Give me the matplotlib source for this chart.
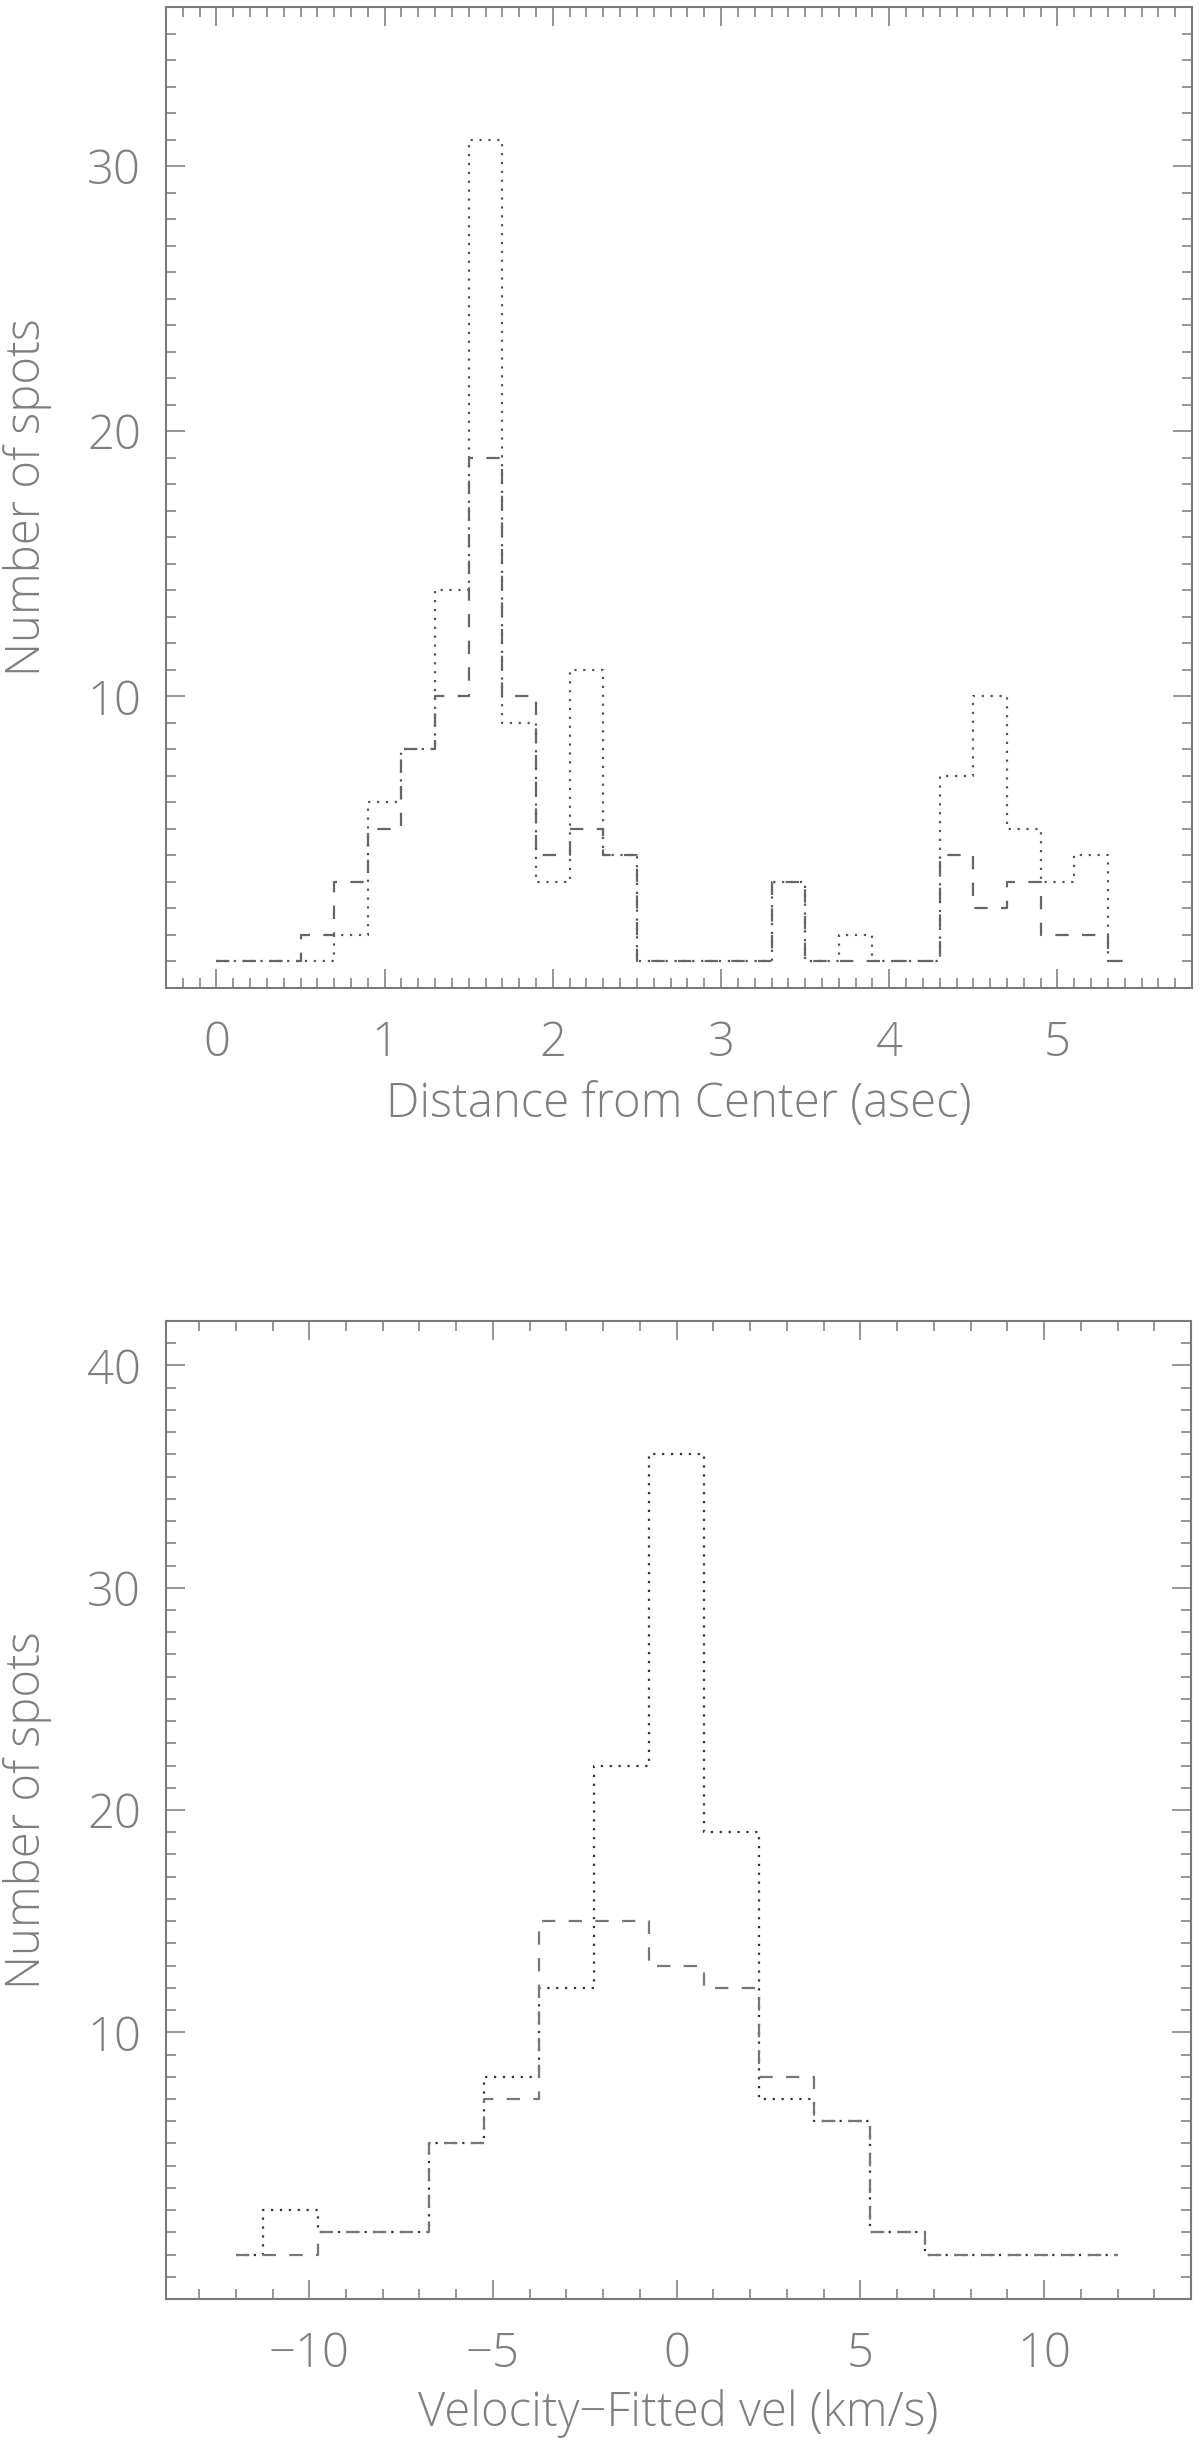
import matplotlib
matplotlib.use('Agg')
import matplotlib.pyplot as plt
from matplotlib.ticker import MultipleLocator, FixedLocator

# histogram of spot distances (bin centres, asec)
dist_centers = [0.0, 0.2, 0.4, 0.6, 0.8, 1.0, 1.2, 1.4, 1.6, 1.8, 2.0, 2.2, 2.4, 2.6,
                2.8, 3.0, 3.2, 3.4, 3.6, 3.8, 4.0, 4.2, 4.4, 4.6, 4.8, 5.0, 5.2, 5.4]
dist_dotted = [0, 0, 0, 0, 1, 6, 8, 14, 31, 9, 3, 11, 4, 0,
               0, 0, 0, 3, 0, 1, 0, 0, 7, 10, 5, 3, 4, 0]
dist_dashed = [0, 0, 0, 1, 3, 5, 8, 10, 19, 10, 4, 5, 4, 0,
               0, 0, 0, 3, 0, 0, 0, 0, 4, 2, 3, 1, 1, 0]

# histogram of velocity residuals (bin centres, km/s)
vel_centers = [-12, -10.5, -9, -7.5, -6, -4.5, -3, -1.5, 0, 1.5, 3, 4.5, 6, 7.5, 9, 10.5, 12]
vel_dotted = [0, 2, 1, 1, 5, 8, 12, 22, 36, 19, 7, 6, 1, 0, 0, 0, 0]
vel_dashed = [0, 0, 1, 1, 5, 7, 15, 15, 13, 12, 8, 6, 1, 0, 0, 0, 0]

text_color = '#7f7f7f'
axis_color = '#7a7a7a'
fsize = 34

plt.rcParams['font.family'] = ['Open Sans', 'DejaVu Sans']
plt.rcParams['font.weight'] = 'light'
plt.rcParams['axes.labelweight'] = 'light'

fig = plt.figure(figsize=(12, 24.49), dpi=100)
ax1 = fig.add_axes([166 / 1200, 1 - 988 / 2449, 1026 / 1200, 981 / 2449])
ax2 = fig.add_axes([166 / 1200, 1 - 2299 / 2449, 1025 / 1200, 978 / 2449])


def style_axes(ax):
    for sp in ax.spines.values():
        sp.set_color(axis_color)
        sp.set_linewidth(1.5)
    ax.tick_params(which='both', direction='in', top=True, right=True,
                   color=axis_color, width=1.1, labelsize=fsize, labelcolor=text_color)
    ax.tick_params(which='major', length=14, pad=18)
    ax.tick_params(which='minor', length=7)
    ax.tick_params(axis='x', which='major', pad=23)


# top panel
ax1.step(dist_centers, dist_dotted, where='mid', color='#555555', lw=1.6, ls=(0, (1, 3)))
ax1.step(dist_centers, dist_dashed, where='mid', color='#666666', lw=1.6, ls=(0, (6, 6)))
ax1.set_xlim(-0.3, 5.8)
ax1.set_ylim(-1, 36)
ax1.xaxis.set_major_locator(MultipleLocator(1))
ax1.xaxis.set_minor_locator(MultipleLocator(0.1))
ax1.yaxis.set_major_locator(FixedLocator([10, 20, 30]))
ax1.yaxis.set_minor_locator(MultipleLocator(1))
style_axes(ax1)
ax1.set_xlabel('Distance from Center (asec)', fontsize=fsize, color=text_color,
               fontweight='light', labelpad=9)

# bottom panel
ax2.step(vel_centers, vel_dotted, where='mid', color='#333333', lw=1.6, ls=(0, (1, 3)))
ax2.step(vel_centers, vel_dashed, where='mid', color='#777777', lw=1.6, ls=(0, (6, 6)))
ax2.set_xlim(-13.9, 14)
ax2.set_ylim(-2, 42)
ax2.xaxis.set_major_locator(FixedLocator([-10, -5, 0, 5, 10]))
ax2.xaxis.set_minor_locator(MultipleLocator(1))
ax2.yaxis.set_major_locator(FixedLocator([10, 20, 30, 40]))
ax2.yaxis.set_minor_locator(MultipleLocator(1))
style_axes(ax2)
ax2.set_xlabel('Velocity\u2212Fitted vel (km/s)', fontsize=fsize, color=text_color,
               fontweight='light', labelpad=7)

# y titles, placed by hand near the left edge
for yc in (497, 1810):
    fig.text(28 / 1200, 1 - yc / 2449, 'Number of spots', rotation=90, ha='center', va='center',
             fontsize=fsize, color=text_color, fontweight='light')

fig.savefig('out.png', dpi=100)
